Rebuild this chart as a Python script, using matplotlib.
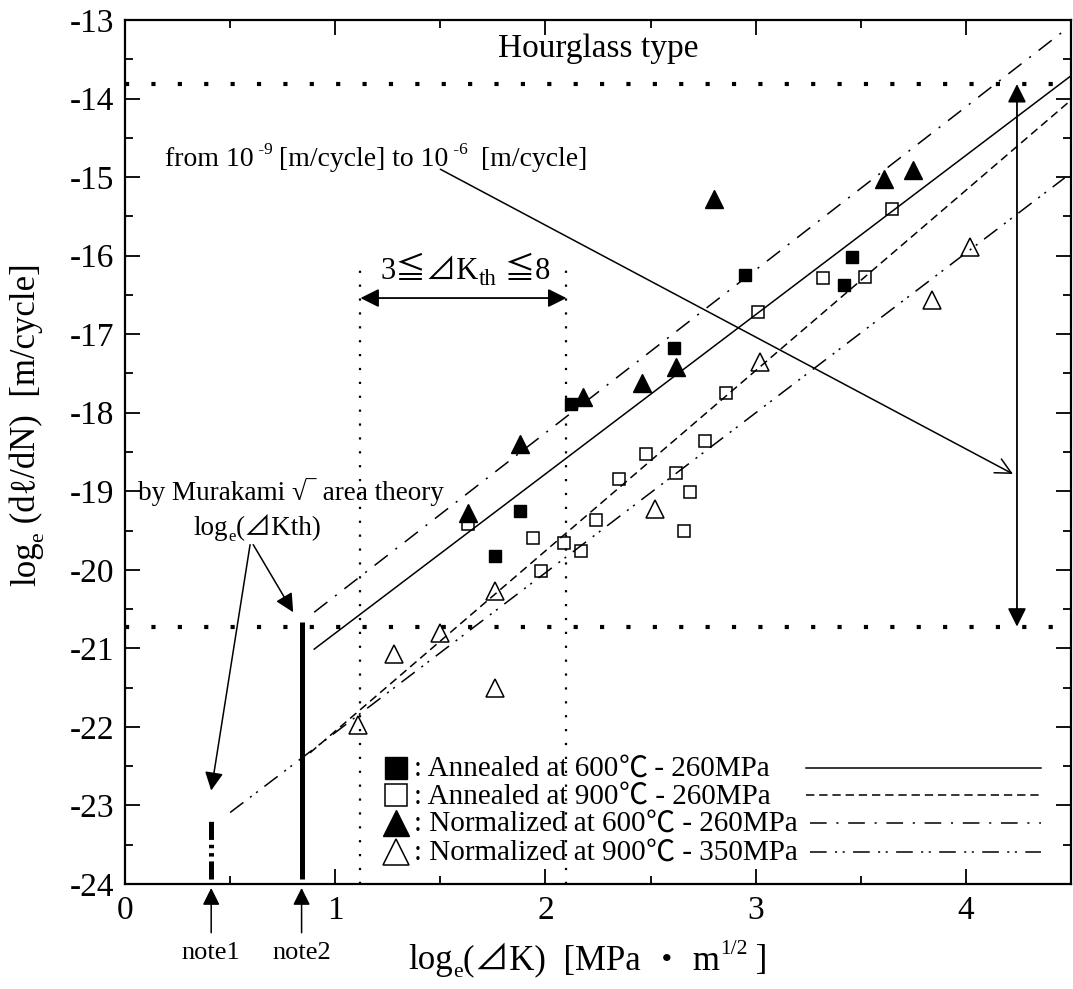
import matplotlib
matplotlib.use("Agg")
import matplotlib.pyplot as plt
from matplotlib.transforms import offset_copy
import numpy as np

FAMILY = ['Liberation Serif', 'Noto Sans CJK JP', 'DejaVu Sans']
CJK = ['Noto Sans CJK JP', 'DejaVu Sans']
plt.rcParams['font.family'] = FAMILY
plt.rcParams['axes.unicode_minus'] = False
plt.rcParams['lines.scale_dashes'] = False

# ---- measured crack growth data: log_e(dl/dN) vs log_e(dK) ----
ann600_x = [1.76, 1.88, 2.12, 2.61, 2.95, 3.42, 3.46]
ann600_y = [-19.83, -19.25, -17.89, -17.18, -16.25, -16.38, -16.02]

ann900_x = [1.63, 1.94, 1.98, 2.09, 2.17, 2.24, 2.35, 2.48, 2.62, 2.66, 2.69,
            2.76, 2.86, 3.01, 3.32, 3.52, 3.65]
ann900_y = [-19.42, -19.59, -20.01, -19.66, -19.76, -19.36, -18.85, -18.52, -18.77,
            -19.50, -19.01, -18.36, -17.75, -16.72, -16.28, -16.27, -15.41]

norm600_x = [1.63, 1.88, 2.18, 2.46, 2.62, 2.80, 3.61, 3.75]
norm600_y = [-19.28, -18.40, -17.80, -17.62, -17.42, -15.28, -15.03, -14.91]

norm900_x = [1.11, 1.28, 1.50, 1.76, 1.76, 2.52, 3.02, 3.84, 4.02]
norm900_y = [-21.97, -21.07, -20.81, -20.27, -21.51, -19.23, -17.36, -16.57, -15.89]

# regression lines (end points)
fit_ann600_x = [0.90, 4.50]
fit_ann600_y = [-21.01, -13.71]
fit_ann900_x = [0.88, 4.50]
fit_ann900_y = [-22.33, -14.02]
fit_norm600_x = [0.90, 4.47]
fit_norm600_y = [-20.54, -13.13]
fit_norm900_x = [0.50, 4.47]
fit_norm900_y = [-23.09, -15.01]

# reference levels
rate_hi = np.log(1e-6)     # -13.82
rate_lo = np.log(1e-9)     # -20.72
dkth_lo = 1.12
dkth_hi = 2.10
note1_x = 0.41
note2_x = 0.84

legend_names = [(": Annealed at 600", " - 260MPa"),
                (": Annealed at 900", " - 260MPa"),
                (": Normalized at 600", " - 260MPa"),
                (": Normalized at 900", " - 350MPa")]

x_ticks = [0, 1, 2, 3, 4]
y_ticks = list(range(-24, -12))

# ---- figure ----
fig = plt.figure(figsize=(10.73, 9.89), dpi=100)
ax = fig.add_axes([125 / 1073, 1 - 884 / 989, (1071 - 125) / 1073, (884 - 20) / 989])
ax.set_xlim(0, 4.5)
ax.set_ylim(-24, -13)
renderer = fig.canvas.get_renderer()


def seg_width(s, size, family):
    """Advance width of a string in points (trailing spaces included)."""
    t = fig.text(0, 0, s + "|", fontsize=size, family=family)
    w1 = t.get_window_extent(renderer).width
    t.set_text("|")
    w2 = t.get_window_extent(renderer).width
    t.remove()
    return (w1 - w2) * 72.0 / fig.dpi


def rich_text(x, y, segs, fs, transform, ha='left', rotation=0):
    """Draw a run of text pieces (normal / sub / sup) on a common baseline."""
    scale = {'n': 1.0, 'sub': 0.62, 'sup': 0.62, 'subL': 0.75}
    shift = {'n': 0.0, 'sub': -0.22, 'sup': 0.42, 'subL': -0.2}
    items = []
    for seg in segs:
        s, kind = seg[0], seg[1]
        fam = seg[2] if len(seg) > 2 else FAMILY
        size = fs * scale[kind]
        items.append((s, size, shift[kind] * fs, fam, seg_width(s, size, fam)))
    total = sum(it[4] for it in items)
    adv = -total / 2 if ha == 'center' else 0.0
    for s, size, dv, fam, w in items:
        if rotation == 90:
            dx, dy = -dv, adv
        else:
            dx, dy = adv, dv
        tr = offset_copy(transform, fig=fig, x=dx, y=dy, units='points')
        fig.text(x, y, s, transform=tr, fontsize=size, family=fam,
                 ha='left', va='baseline', rotation=rotation,
                 rotation_mode='anchor', clip_on=False)
        adv += w


ls_dash = (0, (6, 3.5))
ls_dashdot = (0, (12, 7, 1.5, 7))
ls_dashdotdot = (0, (12, 6, 1.5, 4, 1.5, 6))
lw_fit = 1.1

ax.plot(fit_ann600_x, fit_ann600_y, color='k', lw=lw_fit, ls='-')
ax.plot(fit_ann900_x, fit_ann900_y, color='k', lw=lw_fit, ls=ls_dash)
ax.plot(fit_norm600_x, fit_norm600_y, color='k', lw=lw_fit, ls=ls_dashdot)
ax.plot(fit_norm900_x, fit_norm900_y, color='k', lw=lw_fit, ls=ls_dashdotdot)

# horizontal rate limits (heavy dots)
ax.plot([0, 4.5], [rate_hi, rate_hi], color='k', lw=3, ls=(0, (3, 16)),
        dash_capstyle='butt')
ax.plot([0, 4.5], [rate_lo, rate_lo], color='k', lw=3, ls=(0, (3, 16)),
        dash_capstyle='butt')

# threshold band (fine dots)
for xv in (dkth_lo, dkth_hi):
    ax.plot([xv, xv], [-24, -16.15], color='k', lw=1.6, ls=(0, (1.6, 8.4)),
            dash_capstyle='butt')

# markers
ms_sq = 9
ms_tri = 13
ax.plot(ann600_x, ann600_y, 's', color='k', ms=ms_sq, mec='k')
ax.plot(ann900_x, ann900_y, 's', mfc='none', mec='k', ms=ms_sq, mew=1.1)
ax.plot(norm600_x, norm600_y, '^', color='k', ms=ms_tri, mec='k')
ax.plot(norm900_x, norm900_y, '^', mfc='none', mec='k', ms=ms_tri, mew=1.1)

# Murakami threshold marks
ax.plot([note1_x, note1_x], [-23.93, -23.15], color='k', lw=3.6,
        ls=(0, (13, 3.5, 2.5, 3.5, 2.5, 3.5)), dash_capstyle='butt')
ax.plot([note2_x, note2_x], [-23.93, -20.67], color='k', lw=3.6,
        solid_capstyle='butt')

fs_tick = 24

# texts
ax.text(2.25, -13.36, "Hourglass type", fontsize=24, ha='center', va='center')
rich_text(0.19, -14.86, [("from 10", 'n'), (" -9", 'sup'), (" [m/cycle] to 10", 'n'),
                         (" -6", 'sup'), ("  [m/cycle]", 'n')],
          20, ax.transData)
ax.annotate("", xy=(4.224, -18.78), xytext=(1.50, -14.90),
            arrowprops=dict(arrowstyle='->', color='k', lw=1.1,
                            mutation_scale=28, shrinkA=0, shrinkB=0))
ax.annotate("", xy=(4.243, rate_lo), xytext=(4.243, rate_hi),
            arrowprops=dict(arrowstyle='<|-|>', color='k', lw=1.3,
                            mutation_scale=28, shrinkA=0, shrinkB=0))

rich_text(1.62, -16.30, [("3≦⊿K", 'n'), ("th", 'subL'), (" ≦8", 'n')],
          22, ax.transData, ha='center')
ax.annotate("", xy=(dkth_hi, -16.54), xytext=(dkth_lo, -16.54),
            arrowprops=dict(arrowstyle='<|-|>', color='k', lw=1.3,
                            mutation_scale=28, shrinkA=0, shrinkB=0))

ax.text(0.06, -19.01, "by Murakami √‾ area theory", fontsize=19.5,
        ha='left', va='center')
rich_text(0.63, -19.56, [("log", 'n'), ("e", 'sub'), ("(⊿Kth)", 'n')],
          19.5, ax.transData, ha='center')
ax.annotate("", xy=(note1_x, -22.81), xytext=(0.595, -19.68),
            arrowprops=dict(arrowstyle='-|>', color='k', lw=1.1,
                            mutation_scale=28, shrinkA=0, shrinkB=0))
ax.annotate("", xy=(0.80, -20.54), xytext=(0.61, -19.68),
            arrowprops=dict(arrowstyle='-|>', color='k', lw=1.1,
                            mutation_scale=28, shrinkA=0, shrinkB=0))

# note arrows under the axis
for xv, lab in ((note1_x, "note1"), (note2_x, "note2")):
    ax.annotate("", xy=(xv, -24.05), xytext=(xv, -24.62),
                xycoords='data', annotation_clip=False,
                arrowprops=dict(arrowstyle='-|>', color='k', lw=1.1,
                                mutation_scale=26, shrinkA=0, shrinkB=0))
    ax.text(xv, -24.88, lab, fontsize=19, ha='center', va='center',
            clip_on=False)

# legend block
leg_y = [-22.52, -22.87, -23.22, -23.59]
leg_mk = [dict(marker='s', color='k', ms=16),
          dict(marker='s', mfc='none', mec='k', ms=16, mew=1.1),
          dict(marker='^', color='k', ms=19),
          dict(marker='^', mfc='none', mec='k', ms=19, mew=1.1)]
leg_ls = ['-', ls_dash, ls_dashdot, ls_dashdotdot]
leg_x0 = [3.24, 3.24, 3.26, 3.26]
for yv, mk, (pre, post), ls, x0 in zip(leg_y, leg_mk, legend_names, leg_ls, leg_x0):
    ax.plot([1.29], [yv], ls='none', **mk)
    rich_text(1.375, yv - 0.11, [(pre, 'n'), ("℃", 'n', CJK), (post, 'n')],
              21, ax.transData)
    ax.plot([x0, 4.355], [yv, yv], color='k', lw=lw_fit, ls=ls)

# axes styling
ax.set_xticks(x_ticks)
ax.set_yticks(y_ticks)
ax.set_xticks(np.arange(0.5, 4.5, 1.0), minor=True)
ax.set_yticks(np.arange(-23.5, -13, 1.0), minor=True)
ax.tick_params(which='both', direction='in', top=True, right=True,
               labelsize=fs_tick, width=1.3)
ax.tick_params(which='major', length=11, pad=8)
ax.tick_params(which='minor', length=6)
for sp in ax.spines.values():
    sp.set_linewidth(1.6)

# axis titles
rich_text(588 / 1073, 1 - 969 / 989,
          [("log", 'n'), ("e", 'sub'), ("(⊿K)  [MPa ・ m", 'n'), ("1/2", 'sup'),
           (" ]", 'n')],
          25, fig.transFigure, ha='center')
rich_text(35 / 1073, 1 - 425 / 989,
          [("log", 'n'), ("e", 'sub'), (" (dℓ/dN)  [m/cycle]", 'n')],
          25, fig.transFigure, ha='center', rotation=90)

fig.savefig("out.png", dpi=100)
